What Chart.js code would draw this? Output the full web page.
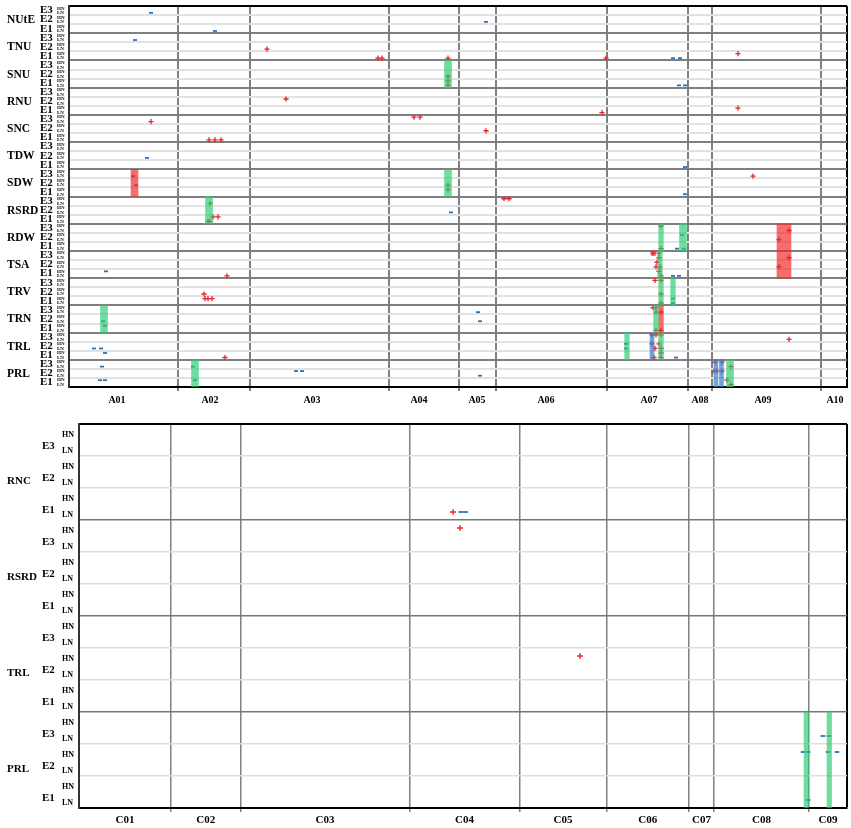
<!DOCTYPE html>
<html>
<head>
<meta charset="utf-8">
<title>Marker map</title>
<script src="https://cdn.jsdelivr.net/npm/chart.js@4.4.0/dist/chart.umd.min.js"></script>
<style>
  html, body { margin: 0; padding: 0; background: #fff; }
  canvas { display: block; }
</style>
</head>
<body>
<canvas id="top-chart" width="851" height="410"></canvas>
<canvas id="bottom-chart" width="851" height="418"></canvas>
<script>
// row levels shared by both panels
const levels = ["E3", "E2", "E1"];
const subLevels = ["HN", "LN"];

// ---- upper panel ----
const topGroups = ["NUtE", "TNU", "SNU", "RNU", "SNC", "TDW", "SDW", "RSRD", "RDW", "TSA", "TRV", "TRN", "TRL", "PRL"];
const topColumns = ["A01", "A02", "A03", "A04", "A05", "A06", "A07", "A08", "A09", "A10"];
const topColumnEdges = [0, 109, 181, 320, 390, 427, 538, 619, 643, 752, 778];
const topLabelAt = [48, 141, 243, 350, 408, 477, 580, 631, 694, 766];

// red "+" marks: [row, position]
const topPlus = [
  ["TNU E2 LN", 198], ["TNU E1 HN", 669],
  ["TNU E1 LN", 309], ["TNU E1 LN", 313], ["TNU E1 LN", 379], ["TNU E1 LN", 537],
  ["SNU E2 LN", 379], ["SNU E1 HN", 379], ["SNU E1 LN", 379],
  ["RNU E2 HN", 217], ["RNU E1 HN", 669], ["RNU E1 LN", 533],
  ["SNC E3 HN", 345], ["SNC E3 HN", 351], ["SNC E3 LN", 82], ["SNC E2 LN", 417],
  ["SNC E1 LN", 140], ["SNC E1 LN", 146], ["SNC E1 LN", 152],
  ["SDW E3 LN", 684], ["SDW E2 LN", 379], ["SDW E1 HN", 379],
  ["RSRD E3 HN", 435], ["RSRD E3 HN", 440], ["RSRD E3 LN", 141],
  ["RSRD E1 HN", 144], ["RSRD E1 HN", 149], ["RSRD E1 LN", 139], ["RSRD E1 LN", 141],
  ["RDW E3 HN", 592], ["RDW E1 LN", 592], ["RDW E3 LN", 720], ["RDW E2 LN", 710],
  ["TSA E3 HN", 584], ["TSA E3 HN", 590], ["TSA E3 LN", 590], ["TSA E3 LN", 720],
  ["TSA E2 HN", 588], ["TSA E2 LN", 587], ["TSA E2 LN", 591], ["TSA E2 LN", 710],
  ["TSA E1 HN", 590], ["TSA E1 LN", 592], ["TSA E1 LN", 158],
  ["TRV E3 HN", 586], ["TRV E3 HN", 592], ["TRV E2 LN", 135], ["TRV E2 LN", 592],
  ["TRV E1 HN", 136], ["TRV E1 HN", 139], ["TRV E1 HN", 143], ["TRV E1 LN", 592],
  ["TRN E3 HN", 584], ["TRN E3 HN", 587], ["TRN E3 LN", 587], ["TRN E3 LN", 592],
  ["TRN E1 LN", 587], ["TRN E1 LN", 592],
  ["TRL E3 HN", 583], ["TRL E3 HN", 587], ["TRL E3 HN", 592], ["TRL E3 LN", 720],
  ["TRL E2 HN", 583], ["TRL E2 HN", 590], ["TRL E2 LN", 586], ["TRL E2 LN", 592],
  ["TRL E1 HN", 592], ["TRL E1 LN", 585], ["TRL E1 LN", 592], ["TRL E1 LN", 156],
  ["PRL E3 HN", 646], ["PRL E3 HN", 653], ["PRL E3 LN", 662],
  ["PRL E2 HN", 645], ["PRL E2 HN", 648], ["PRL E2 HN", 653],
  ["PRL E1 HN", 658], ["PRL E1 LN", 662]
];

// blue "-" marks: [row, position]
const topDash = [
  ["NUtE E3 LN", 82], ["NUtE E2 LN", 417], ["NUtE E1 LN", 146],
  ["TNU E3 LN", 66], ["TNU E1 LN", 604], ["TNU E1 LN", 611],
  ["SNU E1 LN", 610], ["SNU E1 LN", 616],
  ["TDW E2 LN", 78], ["TDW E1 LN", 616],
  ["SDW E3 LN", 64], ["SDW E2 LN", 67], ["SDW E1 LN", 616],
  ["RSRD E2 LN", 382],
  ["RDW E2 HN", 613], ["RDW E1 LN", 608], ["RDW E1 LN", 615],
  ["TSA E1 HN", 37], ["TSA E1 LN", 604], ["TSA E1 LN", 610],
  ["TRV E1 HN", 604], ["TRV E1 LN", 604],
  ["TRN E3 LN", 409], ["TRN E2 LN", 34], ["TRN E2 LN", 411], ["TRN E1 HN", 36],
  ["TRL E2 HN", 557], ["TRL E2 LN", 25], ["TRL E2 LN", 32], ["TRL E2 LN", 557],
  ["TRL E1 HN", 36], ["TRL E1 LN", 607],
  ["PRL E3 LN", 33], ["PRL E3 LN", 124], ["PRL E2 HN", 227], ["PRL E2 HN", 233],
  ["PRL E2 LN", 411], ["PRL E1 HN", 31], ["PRL E1 HN", 36], ["PRL E1 HN", 126]
];

// shaded spans: [from row, to row, position]
const topGreenBoxes = [
  ["SNU E3 HN", "SNU E1 LN", 379], ["SDW E3 HN", "SDW E1 LN", 379],
  ["RSRD E3 HN", "RSRD E1 LN", 140], ["TRN E3 HN", "TRN E1 LN", 35],
  ["PRL E3 HN", "PRL E1 LN", 126], ["RDW E3 HN", "RDW E1 LN", 614],
  ["PRL E3 HN", "PRL E1 LN", 661]
];
const topGreenNarrow = [
  ["RDW E3 HN", "RDW E1 LN", 592], ["TSA E3 HN", "TSA E1 LN", 591],
  ["TRV E3 HN", "TRV E1 LN", 592], ["TRN E3 HN", "TRN E1 LN", 587],
  ["TRL E3 HN", "TRL E1 LN", 592], ["TRV E3 HN", "TRV E1 LN", 604],
  ["TRL E3 HN", "TRL E1 LN", 558]
];
const topRedBoxes = [["SDW E3 HN", "SDW E1 LN", 65.5]];
const topRedNarrow = [["TSA E3 HN", "TSA E3 HN", 584.5], ["TRN E3 HN", "TRN E1 LN", 592]];
const topRedWide = [["RDW E3 HN", "TSA E1 LN", 715]];
const topBlueNarrow = [
  ["TRL E3 HN", "TRL E1 LN", 583], ["PRL E3 HN", "PRL E1 LN", 647], ["PRL E3 HN", "PRL E1 LN", 652.5]
];

// ---- lower panel ----
const bottomGroups = ["RNC", "RSRD", "TRL", "PRL"];
const bottomColumns = ["C01", "C02", "C03", "C04", "C05", "C06", "C07", "C08", "C09"];
const bottomColumnEdges = [0, 92, 161.5, 330.5, 440.5, 527.5, 610, 635, 730, 768];
const bottomLabelAt = [46, 126.75, 246, 385.5, 484, 568.75, 622.5, 682.5, 749];

const bottomPlus = [["RNC E1 LN", 374], ["RSRD E3 HN", 381], ["TRL E2 HN", 501]];
const bottomDash = [
  ["RNC E1 LN", 382], ["RNC E1 LN", 386.5],
  ["PRL E3 LN", 744], ["PRL E3 LN", 750],
  ["PRL E2 HN", 724], ["PRL E2 HN", 729], ["PRL E2 HN", 749], ["PRL E2 HN", 758],
  ["PRL E1 LN", 729]
];
const bottomGreenNarrow = [["PRL E3 HN", "PRL E1 LN", 727.3], ["PRL E3 HN", "PRL E1 LN", 750.3]];

// ---- drawing ----
const FONT = "'Liberation Serif', 'Times New Roman', serif";
const PLUS_COLOR = "#e8242b";
const DASH_COLOR = "#2b72b8";
const GREEN_BOX = "rgba(46, 204, 113, 0.68)";
const RED_BOX = "rgba(240, 40, 40, 0.68)";
const BLUE_BOX = "rgba(60, 130, 200, 0.72)";
const NONE = "rgba(0,0,0,0)";

const range = (n) => Array.from({ length: n }, (_, i) => i);

function rowOf(groups, key) {
  const [g, e, n] = key.split(" ");
  return groups.indexOf(g) * 6 + levels.indexOf(e) * 2 + subLevels.indexOf(n) + 0.5;
}

function pointsOf(groups, list) {
  return list.map(([key, x]) => ({ x, y: rowOf(groups, key) }));
}

function spansOf(groups, list) {
  return list.map(([from, to, x]) => ({
    x,
    y: [rowOf(groups, from) - 0.5, rowOf(groups, to) + 0.5],
  }));
}

function makeChart(canvasId, p, s) {
  const rows = p.groups.length * 6;
  const maxX = p.edges[p.edges.length - 1];
  const xLabels = new Map(p.labelAt.map((v, i) => [v, p.columns[i]]));
  const xTickValues = [...new Set([...p.edges, ...p.labelAt])].sort((a, b) => a - b);
  const innerEdge = (v) => p.edges.includes(v) && v > 0 && v < maxX;
  const font = (size) => ({ family: FONT, size, weight: "bold" });

  const datasets = p.boxes.map(([list, color, width]) => ({
    type: "bar",
    data: spansOf(p.groups, list),
    backgroundColor: color,
    borderWidth: 0,
    barThickness: width,
    grouped: false,
    order: 0,
  }));
  datasets.push({
    type: "scatter",
    data: pointsOf(p.groups, p.plus),
    pointStyle: "cross",
    pointRadius: s.plusRadius,
    pointBorderWidth: 1.3,
    pointBorderColor: PLUS_COLOR,
    pointBackgroundColor: PLUS_COLOR,
    order: 1,
  });
  datasets.push({
    type: "scatter",
    data: pointsOf(p.groups, p.dash),
    pointStyle: "line",
    pointRadius: s.dashRadius,
    pointBorderWidth: 1.8,
    pointBorderColor: DASH_COLOR,
    order: 1,
  });

  const yCommon = { type: "linear", min: 0, max: rows, reverse: true, position: "left" };
  const leftFit = (w) => (sc) => {
    sc.width = w;
    sc.paddingTop = 0;
    sc.paddingBottom = 0;
  };

  return new Chart(document.getElementById(canvasId), {
    type: "scatter",
    data: { datasets },
    options: {
      responsive: false,
      animation: false,
      events: [],
      layout: { autoPadding: false, padding: s.padding },
      plugins: { legend: { display: false }, tooltip: { enabled: false } },
      scales: {
        x: {
          type: "linear",
          min: 0,
          max: maxX,
          offset: false,
          position: "bottom",
          afterBuildTicks: (sc) => {
            sc.ticks = xTickValues.map((v) => ({ value: v }));
          },
          afterFit: (sc) => {
            sc.height = s.xHeight;
            sc.paddingLeft = 0;
            sc.paddingRight = 0;
          },
          ticks: {
            autoSkip: false,
            maxRotation: 0,
            minRotation: 0,
            padding: s.xPad,
            color: "#000",
            font: font(s.xFont),
            callback: (v) => xLabels.get(v) || "",
          },
          grid: {
            offset: false,
            drawTicks: true,
            tickLength: 4,
            color: (c) => {
              if (!c.tick) return NONE;
              if (c.tick.value === maxX) return "#000";
              return innerEdge(c.tick.value) ? s.columnLine : NONE;
            },
            tickColor: (c) => (c.tick && innerEdge(c.tick.value) ? s.columnLine : NONE),
            lineWidth: (c) => (c.tick && c.tick.value === maxX ? 2 : s.lineWidth),
          },
          border: { color: "#000", width: 2 },
        },
        y: {
          ...yCommon,
          stacked: false,
          weight: 1,
          afterBuildTicks: (sc) => {
            sc.ticks = range(rows).map((r) => ({ value: r + 0.5 }));
          },
          afterFit: leftFit(s.subWidth),
          ticks: {
            autoSkip: false,
            crossAlign: "far",
            padding: 0,
            labelOffset: s.subOffset,
            color: "#000",
            font: font(s.subFont),
            callback: (v) => subLevels[Math.floor(v) % 2],
          },
          grid: { display: false },
          border: { display: true, color: "#333", width: 2 },
        },
        yLevel: {
          ...yCommon,
          weight: 2,
          afterBuildTicks: (sc) => {
            sc.ticks = range(rows + 1).map((v) => ({ value: v }));
          },
          afterFit: leftFit(s.levelWidth),
          ticks: {
            autoSkip: false,
            crossAlign: "far",
            padding: 0,
            labelOffset: s.levelOffset,
            color: "#000",
            font: font(s.levelFont),
            callback: (v) => (v % 2 === 1 ? levels[((v - 1) / 2) % 3] : ""),
          },
          grid: {
            drawTicks: false,
            color: (c) => (c.tick && c.tick.value % 2 === 0 && c.tick.value % 6 !== 0 ? s.lightLine : NONE),
            lineWidth: s.lightWidth,
          },
          border: { display: false },
        },
        yGroup: {
          ...yCommon,
          weight: 3,
          afterBuildTicks: (sc) => {
            sc.ticks = range(rows / 3 + 1).map((k) => ({ value: k * 3 }));
          },
          afterFit: leftFit(s.groupWidth),
          ticks: {
            autoSkip: false,
            crossAlign: "far",
            padding: 0,
            labelOffset: s.groupOffset,
            color: "#000",
            font: font(s.groupFont),
            callback: (v) => (v % 6 === 3 ? p.groups[(v - 3) / 6] : ""),
          },
          grid: {
            drawTicks: false,
            color: (c) => {
              if (!c.tick) return NONE;
              const v = c.tick.value;
              if (v === 0) return "#000";
              if (v === rows || v % 6 !== 0) return NONE;
              return s.groupLine;
            },
            lineWidth: (c) => (c.tick && c.tick.value === 0 ? 2 : s.lineWidth),
          },
          border: { display: false },
        },
      },
    },
  });
}

makeChart(
  "top-chart",
  {
    groups: topGroups,
    columns: topColumns,
    edges: topColumnEdges,
    labelAt: topLabelAt,
    plus: topPlus,
    dash: topDash,
    boxes: [
      [topGreenBoxes, GREEN_BOX, 7],
      [topGreenNarrow, GREEN_BOX, 4.7],
      [topRedBoxes, RED_BOX, 7],
      [topRedNarrow, RED_BOX, 4.7],
      [topRedWide, RED_BOX, 14],
      [topBlueNarrow, BLUE_BOX, 4],
    ],
  },
  {
    padding: { left: 7, top: 6, right: 4, bottom: 0 },
    groupWidth: 33, levelWidth: 17, subWidth: 12,
    groupFont: 11.5, levelFont: 11, subFont: 5, xFont: 10,
    groupOffset: 0.5, levelOffset: 0, subOffset: 0,
    xHeight: 23, xPad: 3,
    plusRadius: 2.6, dashRadius: 2,
    lineWidth: 2, lightWidth: 2,
    columnLine: "#7f7f7f", groupLine: "#7f7f7f", lightLine: "#e2e2e2",
  }
);

makeChart(
  "bottom-chart",
  {
    groups: bottomGroups,
    columns: bottomColumns,
    edges: bottomColumnEdges,
    labelAt: bottomLabelAt,
    plus: bottomPlus,
    dash: bottomDash,
    boxes: [[bottomGreenNarrow, GREEN_BOX, 4.5]],
  },
  {
    padding: { left: 7, top: 14, right: 4, bottom: 0 },
    groupWidth: 35, levelWidth: 20, subWidth: 17,
    groupFont: 11, levelFont: 11, subFont: 8, xFont: 11,
    groupOffset: 9, levelOffset: 6.5, subOffset: 2.5,
    xHeight: 20, xPad: 2,
    plusRadius: 3, dashRadius: 2.3,
    lineWidth: 1.5, lightWidth: 1.5,
    columnLine: "#808080", groupLine: "#777777", lightLine: "#dedede",
  }
);
</script>
</body>
</html>
